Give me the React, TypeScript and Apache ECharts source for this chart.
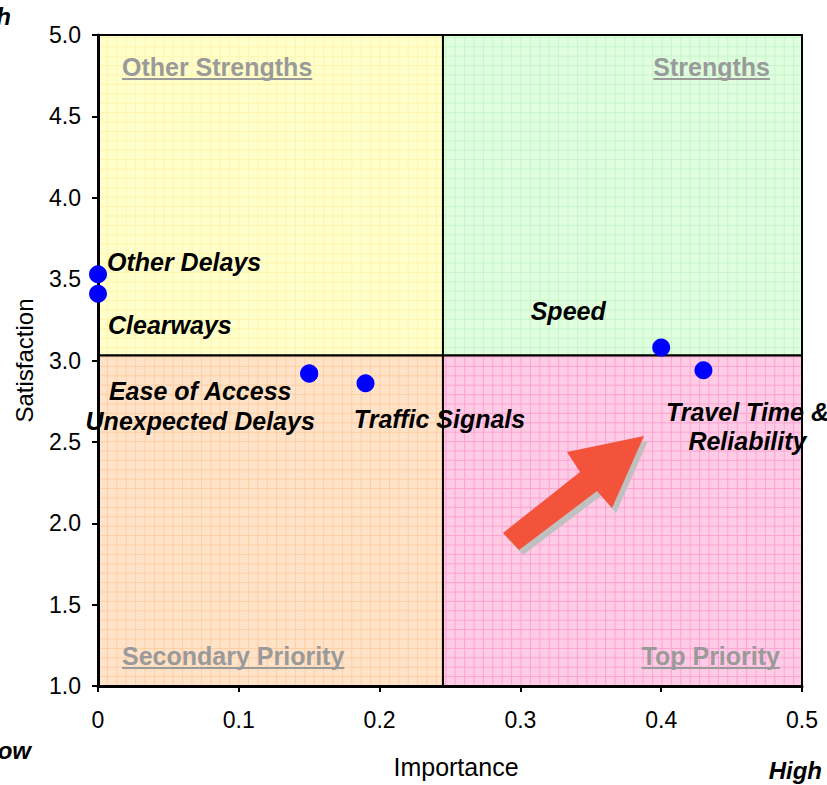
import React, { useEffect, useRef } from "react";
import * as echarts from "echarts";

// ---- data ----
const xMid = 0.245; // mean importance (quadrant divider)
const yMid = 3.03; // mean satisfaction (quadrant divider)
const pointNames = [
  "Other Delays",
  "Clearways",
  "Ease of Access",
  "Unexpected Delays",
  "Traffic Signals",
  "Speed",
  "Travel Time &\nReliability",
];
const importance = [0, 0, 0.15, 0.15, 0.19, 0.4, 0.43];
const satisfaction = [3.53, 3.41, 2.92, 2.92, 2.86, 3.08, 2.94];
const xTicks = [0, 0.5, 0.1];
const yTicks = [1, 5, 0.5];
const quadrantNames = ["Other Strengths", "Strengths", "Secondary Priority", "Top Priority"];

// ---- layout / style (not data) ----
const labelLayout = [
  { offset: [9, -12], align: "left" },
  { offset: [10, 31], align: "left" },
  { offset: [-109, 17], align: "center" },
  { offset: [-109, 47], align: "center" },
  { offset: [74, 36], align: "center" },
  { offset: [-93, -36], align: "center" },
  { offset: [44, 56], align: "center" },
];
const quadStyles = [
  { bg: "#FFFFCC", line: "#FFF4AC" },
  { bg: "#DFFFDF", line: "#C9F5C9" },
  { bg: "#FFE3C9", line: "#FFCDA2" },
  { bg: "#FFCCE5", line: "#FFA2D2" },
];
const titleLayout = [
  { x: 122, y: 67, align: "left" },
  { x: 770, y: 67, align: "right" },
  { x: 122, y: 656, align: "left" },
  { x: 780, y: 656, align: "right" },
];
const FONT = '"Liberation Sans", Arial, Helvetica, sans-serif';

function measure(text: string, size: number, weight = "bold", style = "normal") {
  const c = document.createElement("canvas");
  const ctx = c.getContext("2d");
  if (!ctx) return text.length * size * 0.55;
  ctx.font = `${style} ${weight} ${size}px ${FONT}`;
  return ctx.measureText(text).width;
}

export default function App() {
  const ref = useRef<HTMLDivElement>(null);
  useEffect(() => {
    if (!ref.current) return;
    const chart = echarts.init(ref.current, undefined, { renderer: "svg" });

    const quadData = [
      [0, yMid, xMid, yTicks[1], 0],
      [xMid, yMid, xTicks[1], yTicks[1], 1],
      [0, yTicks[0], xMid, yMid, 2],
      [xMid, yTicks[0], xTicks[1], yMid, 3],
    ];

    const step = 9.4;
    const renderQuad = (params: any, api: any) => {
      const x0 = api.value(0), y0 = api.value(1), x1 = api.value(2), y1 = api.value(3);
      const idx = api.value(4);
      const tl = api.coord([x0, y1]);
      const br = api.coord([x1, y0]);
      const cs = params.coordSys;
      const left = tl[0], top = tl[1], right = br[0], bottom = br[1];
      const st = quadStyles[idx];
      const children: any[] = [
        { type: "rect", shape: { x: left, y: top, width: right - left, height: bottom - top }, style: { fill: st.bg } },
      ];
      for (let x = cs.x + step; x < right; x += step) {
        if (x <= left) continue;
        children.push({ type: "line", shape: { x1: x, y1: top, x2: x, y2: bottom }, style: { stroke: st.line, lineWidth: 1 } });
      }
      for (let y = cs.y + cs.height - step; y > top; y -= step) {
        if (y >= bottom) continue;
        children.push({ type: "line", shape: { x1: left, y1: y, x2: right, y2: y }, style: { stroke: st.line, lineWidth: 1 } });
      }
      children.push({
        type: "rect",
        shape: { x: left, y: top, width: right - left, height: bottom - top },
        style: { fill: "none", stroke: "#000", lineWidth: 2 },
      });
      return { type: "group", children };
    };

    const arrow = [
      [644, 436], [567, 452], [580, 472], [503, 533], [519, 550], [597, 491], [612, 508],
    ];
    const shadow = arrow.map((p) => [p[0] + 4, p[1] + 5]);

    const graphics: any[] = [
      { type: "polygon", z: 20, shape: { points: shadow }, style: { fill: "#C0C0C0" } },
      { type: "polygon", z: 21, shape: { points: arrow }, style: { fill: "#F3533A" } },
    ];
    const TITLE_SIZE = 25;
    quadrantNames.forEach((name, i) => {
      const tLay = titleLayout[i];
      const w = measure(name, TITLE_SIZE);
      const lx = tLay.align === "left" ? tLay.x : tLay.x - w;
      graphics.push({
        type: "text",
        z: 20,
        x: tLay.x,
        y: tLay.y,
        style: {
          text: name,
          fill: "#9A9A9A",
          fontSize: TITLE_SIZE,
          fontWeight: "bold",
          fontFamily: FONT,
          align: tLay.align,
          verticalAlign: "middle",
          textAlign: tLay.align,
          textVerticalAlign: "middle",
        },
      });
      graphics.push({
        type: "rect",
        z: 20,
        shape: { x: lx, y: tLay.y + 11, width: w, height: 2 },
        style: { fill: "#9A9A9A" },
      });
    });
    const corner = (text: string, x: number, y: number, align: string) => ({
      type: "text",
      z: 20,
      x,
      y,
      style: {
        text,
        fill: "#000",
        fontSize: 24,
        fontWeight: "bold",
        fontStyle: "italic",
        fontFamily: FONT,
        align,
        verticalAlign: "middle",
        textAlign: align,
        textVerticalAlign: "middle",
      },
    });
    graphics.push(corner("High", 11, 16, "right"));
    graphics.push(corner("Low", 31, 750, "right"));
    graphics.push(corner("High", 822, 770, "right"));

    const scatterData = pointNames.map((name, i) => ({
      name,
      value: [importance[i], satisfaction[i]],
      label: {
        offset: labelLayout[i].offset,
        align: labelLayout[i].align,
      },
    }));

    chart.setOption({
      animation: false,
      grid: { left: 98, top: 35, right: 25, bottom: 99, show: false },
      xAxis: {
        type: "value",
        min: xTicks[0],
        max: xTicks[1],
        interval: xTicks[2],
        z: 5,
        name: "Importance",
        nameLocation: "middle",
        nameGap: 68,
        nameTextStyle: { fontSize: 25, fontFamily: FONT, color: "#000", padding: [0, 0, 0, 12] },
        axisLine: { show: true, lineStyle: { color: "#000", width: 3 } },
        axisTick: { show: true, length: 6, lineStyle: { color: "#000", width: 2 } },
        axisLabel: {
          margin: 22,
          fontSize: 23,
          fontFamily: FONT,
          color: "#000",
          formatter: (v: number) => (v === 0 ? "0" : v.toFixed(1)),
        },
        splitLine: { show: false },
      },
      yAxis: {
        type: "value",
        min: yTicks[0],
        max: yTicks[1],
        interval: yTicks[2],
        z: 5,
        name: "Satisfaction",
        nameLocation: "middle",
        nameGap: 62,
        nameTextStyle: { fontSize: 24, fontFamily: FONT, color: "#000" },
        axisLine: { show: true, lineStyle: { color: "#000", width: 3 } },
        axisTick: { show: true, length: 6, lineStyle: { color: "#000", width: 2 } },
        axisLabel: {
          margin: 17,
          fontSize: 23,
          fontFamily: FONT,
          color: "#000",
          formatter: (v: number) => v.toFixed(1),
        },
        splitLine: { show: false },
      },
      series: [
        {
          type: "custom",
          z: 1,
          clip: false,
          silent: true,
          renderItem: renderQuad,
          data: quadData,
        },
        {
          type: "scatter",
          z: 10,
          symbol: "circle",
          symbolSize: 18,
          itemStyle: { color: "#0000FF", opacity: 1 },
          label: {
            show: true,
            position: "inside",
            formatter: (p: any) => p.name,
            color: "#000",
            fontSize: 25,
            fontWeight: "bold",
            fontStyle: "italic",
            fontFamily: FONT,
            lineHeight: 29,
            verticalAlign: "middle",
          },
          data: scatterData,
        },
      ],
      graphic: graphics,
    });
    return () => chart.dispose();
  }, []);
  return <div ref={ref} style={{ position: "absolute", left: 0, top: 0, width: 827, height: 785 }} />;
}
